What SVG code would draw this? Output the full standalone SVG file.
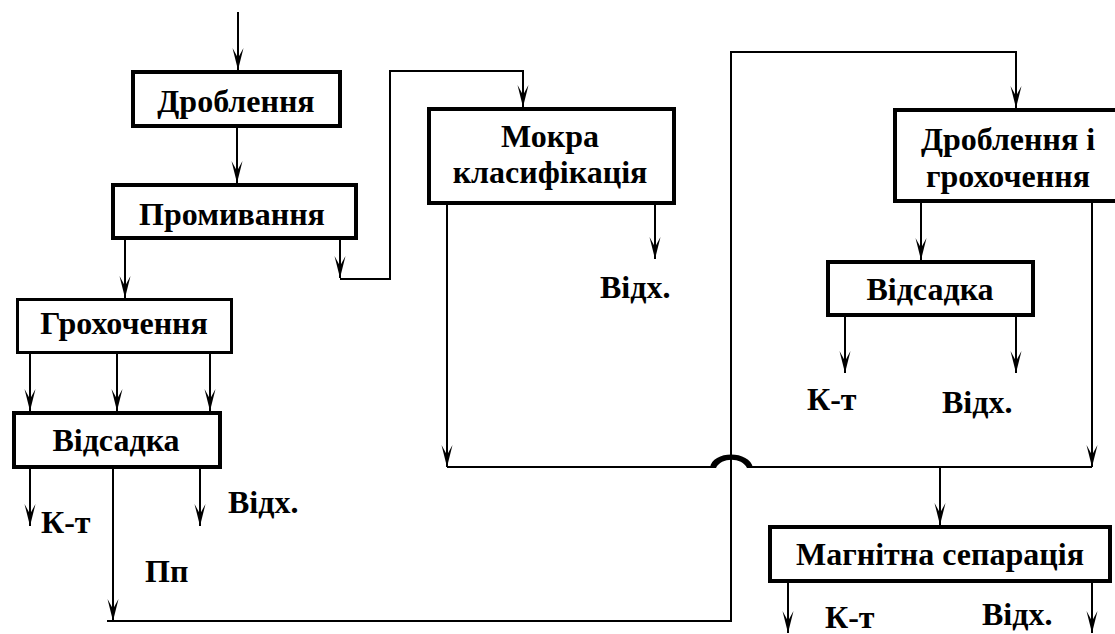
<svg xmlns="http://www.w3.org/2000/svg" width="1115" height="634" viewBox="0 0 1115 634">
<style>
.box{fill:#fff;stroke:#000;stroke-width:4}
.t{font-family:"Liberation Serif","DejaVu Serif","Times New Roman",serif;font-weight:700;font-size:32px;fill:#000;text-anchor:middle}
.l{font-family:"Liberation Serif","DejaVu Serif","Times New Roman",serif;font-weight:700;font-size:32px;fill:#000}
.c{fill:none;stroke:#000;stroke-width:2}
.a{marker-end:url(#arr)}
</style>
<defs>
<marker id="arr" markerUnits="userSpaceOnUse" markerWidth="24" markerHeight="14" viewBox="-23 -7 24 14" refX="0" refY="0" orient="auto" overflow="visible">
<path d="M0,0 L-22,-5.5 L-12,0 L-22,5.5 Z" fill="#000"/>
</marker>
</defs>
<rect width="1115" height="634" fill="#fff"/>
<g id="connectors">
<line class="c a" x1="238" y1="12" x2="238" y2="70"/>
<line class="c a" x1="237" y1="128" x2="237" y2="183"/>
<line class="c a" x1="125" y1="240" x2="125" y2="298"/>
<line class="c a" x1="340" y1="240" x2="340" y2="278"/>
<polyline class="c a" points="340,279 390,279 390,71 523,71 523,107"/>
<line class="c a" x1="30" y1="354" x2="30" y2="411"/>
<line class="c a" x1="117" y1="354" x2="117" y2="411"/>
<line class="c a" x1="210" y1="354" x2="210" y2="411"/>
<line class="c a" x1="30" y1="469" x2="30" y2="526"/>
<line class="c a" x1="200" y1="469" x2="200" y2="526"/>
<line class="c a" x1="113" y1="469" x2="113" y2="621"/>
<polyline class="c a" points="107,621 731,621 731,52 1016,52 1016,108"/>
<line class="c a" x1="655" y1="205" x2="655" y2="259"/>
<line class="c a" x1="447" y1="205" x2="447" y2="467"/>
<polyline class="c" points="447,467 712,467"/>
<path d="M710,468 C712,450 750,450 753,468 L747,468 C742,457 721,457 716,468 Z" fill="#000"/>
<line class="c" x1="751" y1="467" x2="1092" y2="467"/>
<line class="c a" x1="921" y1="203" x2="921" y2="260"/>
<line class="c a" x1="1092" y1="203" x2="1092" y2="467"/>
<line class="c a" x1="845" y1="317" x2="845" y2="373"/>
<line class="c a" x1="1016" y1="317" x2="1016" y2="373"/>
<line class="c a" x1="940" y1="467" x2="940" y2="525"/>
<line class="c a" x1="788" y1="583" x2="788" y2="633"/>
<line class="c a" x1="1092" y1="583" x2="1092" y2="633"/>
</g>
<g id="drob1"><rect class="box" x="133" y="72" width="207" height="54"/><text class="t" x="236" y="112">Дроблення</text></g>
<g id="promyv"><rect class="box" x="113" y="185" width="243" height="53"/><text class="t" x="232" y="225">Промивання</text></g>
<g id="hroh"><rect class="box" style="stroke-width:3" x="17.5" y="299.5" width="214" height="53"/><text class="t" x="124" y="334">Грохочення</text></g>
<g id="vids1"><rect class="box" x="14" y="413" width="206" height="54"/><text class="t" x="116" y="451">Відсадка</text></g>
<g id="mokra"><rect class="box" x="429" y="109" width="245" height="94"/><text class="t" x="550" y="147">Мокра</text><text class="t" x="550" y="183">класифікація</text></g>
<g id="drob2"><rect class="box" x="895" y="110" width="230" height="91"/><text class="t" x="1008" y="150">Дроблення і</text><text class="t" x="1008" y="187">грохочення</text></g>
<g id="vids2"><rect class="box" x="828" y="262" width="205" height="53"/><text class="t" x="930" y="300">Відсадка</text></g>
<g id="magn"><rect class="box" x="770" y="527" width="340" height="54"/><text class="t" x="940" y="565">Магнітна сепарація</text></g>
<g id="labels">
<text class="l" x="41" y="533">К-т</text>
<text class="l" x="228" y="513">Відх.</text>
<text class="l" x="145" y="582">Пп</text>
<text class="l" x="600" y="298">Відх.</text>
<text class="l" x="807" y="410">К-т</text>
<text class="l" x="942" y="413">Відх.</text>
<text class="l" x="825" y="628">К-т</text>
<text class="l" x="982" y="625">Відх.</text>
</g>
</svg>
